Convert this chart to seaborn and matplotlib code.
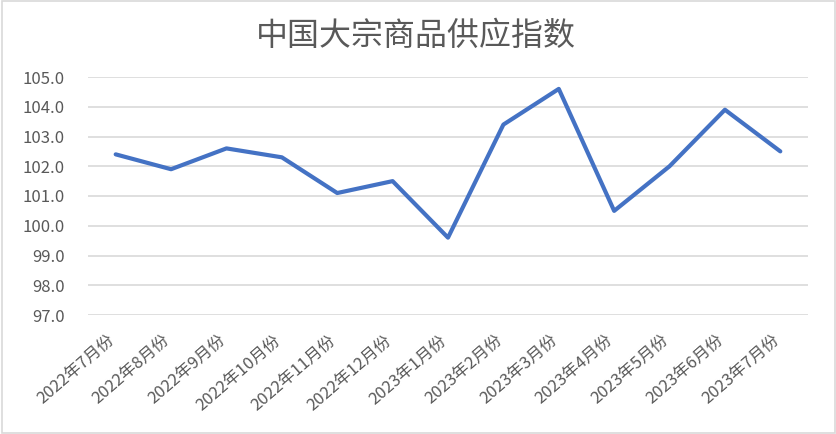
import matplotlib
matplotlib.use("Agg")
import matplotlib.pyplot as plt
import matplotlib.transforms as mtransforms
import seaborn as sns
import pandas as pd
from matplotlib.patches import Rectangle

months = ["2022年7月份", "2022年8月份", "2022年9月份", "2022年10月份", "2022年11月份",
          "2022年12月份", "2023年1月份", "2023年2月份", "2023年3月份", "2023年4月份",
          "2023年5月份", "2023年6月份", "2023年7月份"]
values = [102.4, 101.9, 102.6, 102.3, 101.1, 101.5, 99.6, 103.4, 104.6, 100.5, 102.0, 103.9, 102.5]
yticks = [97.0, 98.0, 99.0, 100.0, 101.0, 102.0, 103.0, 104.0, 105.0]
title = "中国大宗商品供应指数"

sns.set_theme(style="white")
plt.rcParams['font.family'] = ['Noto Sans CJK SC', 'DejaVu Sans']

df = pd.DataFrame({"month": months, "value": values, "pos": range(len(months))})

fig = plt.figure(figsize=(8.37, 4.34), dpi=100)
ax = fig.add_axes([88/837, 1-315/434, (808-88)/837, (315-77)/434])

sns.lineplot(data=df, x="pos", y="value", ax=ax, color="#4472C4", linewidth=3.0, sort=False)

ax.set_xlim(-0.5, len(months)-0.5)
ax.set_ylim(97.0, 105.0)
ax.set_yticks(yticks)
ax.set_yticklabels([f"{v:.1f}" for v in yticks], color="#595959", fontsize=12)
ax.set_xticks(range(len(months)))
ax.set_xticklabels(months, rotation=41, ha="right", va="top", rotation_mode="anchor",
                   color="#595959", fontsize=12)
ax.tick_params(axis="y", length=0, pad=17)
ax.tick_params(axis="x", length=0, pad=12)
offset = mtransforms.ScaledTranslation(-9/100, 0, fig.dpi_scale_trans)
for lab in ax.get_xticklabels():
    lab.set_transform(lab.get_transform() + offset)
ax.yaxis.grid(True, color="#D9D9D9", linewidth=1.2)
ax.set_axisbelow(True)
for s in ax.spines.values():
    s.set_visible(False)
ax.set_xlabel("")
ax.set_ylabel("")

fig.text(0.497, 1-36/434, title, ha="center", va="center", fontsize=23, color="#595959")
fig.patches.append(Rectangle((0.002, 0.003), 0.996, 0.994, transform=fig.transFigure,
                             fill=False, edgecolor="#D9D9D9", linewidth=1.2))

fig.savefig("out.png", dpi=100)
